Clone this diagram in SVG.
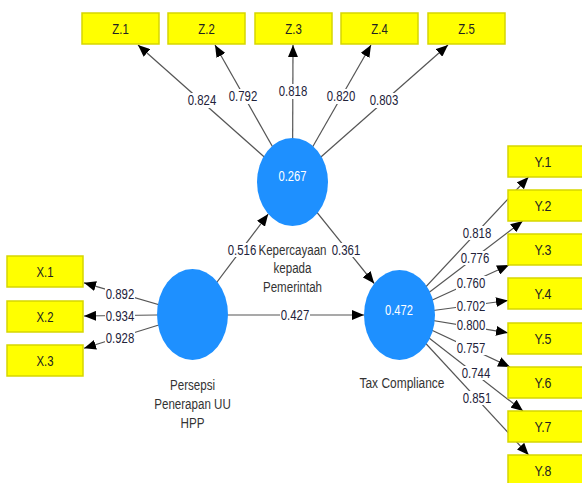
<svg xmlns="http://www.w3.org/2000/svg" width="582" height="483" viewBox="0 0 582 483">
<style>
text{font-family:"Liberation Sans",Arial,sans-serif;font-size:14px;text-anchor:middle}
.ln{stroke:#555;stroke-width:1.2;fill:none;marker-end:url(#ah)}
.lb{fill:#fff}
.lt{fill:#22223a}
.box{fill:#ffff00;stroke:#d6d600;stroke-width:1.5}
.bt{fill:#222}
.lv{fill:#1e90ff}
.ct{fill:#fff}
.nt{fill:#333}
</style>
<defs>
<marker id="ah" markerUnits="userSpaceOnUse" markerWidth="12" markerHeight="10" viewBox="0 0 12 10" refX="12" refY="5" orient="auto">
<path d="M0,0 L12,5 L0,10 z" fill="#000"/>
</marker>
</defs>
<rect width="582" height="483" fill="#fff"/>
<g id="connectors">
<line class="ln" x1="292.5" y1="182" x2="138" y2="45"/>
<line class="ln" x1="292.5" y1="182" x2="215" y2="45"/>
<line class="ln" x1="292.5" y1="182" x2="293" y2="45"/>
<line class="ln" x1="292.5" y1="182" x2="371" y2="45"/>
<line class="ln" x1="292.5" y1="182" x2="448" y2="45"/>
<rect class="lb" x="187" y="93" width="30" height="15"/><text class="lt" x="202" y="105" textLength="28.5" lengthAdjust="spacingAndGlyphs">0.824</text>
<rect class="lb" x="228" y="89" width="30" height="15"/><text class="lt" x="243" y="101" textLength="28.5" lengthAdjust="spacingAndGlyphs">0.792</text>
<rect class="lb" x="278" y="84" width="30" height="15"/><text class="lt" x="293" y="96" textLength="28.5" lengthAdjust="spacingAndGlyphs">0.818</text>
<rect class="lb" x="326" y="89" width="30" height="15"/><text class="lt" x="341" y="101" textLength="28.5" lengthAdjust="spacingAndGlyphs">0.820</text>
<rect class="lb" x="369" y="93" width="30" height="15"/><text class="lt" x="384" y="105" textLength="28.5" lengthAdjust="spacingAndGlyphs">0.803</text>
<line class="ln" x1="192.5" y1="314.5" x2="84" y2="282.8"/>
<line class="ln" x1="192.5" y1="314.5" x2="84" y2="316"/>
<line class="ln" x1="192.5" y1="314.5" x2="84" y2="348.3"/>
<rect class="lb" x="105" y="287" width="30" height="14"/><text class="lt" x="120" y="299" textLength="28.5" lengthAdjust="spacingAndGlyphs">0.892</text>
<rect class="lb" x="105" y="309" width="30" height="14"/><text class="lt" x="120" y="321" textLength="28.5" lengthAdjust="spacingAndGlyphs">0.934</text>
<rect class="lb" x="105" y="331" width="30" height="14"/><text class="lt" x="120" y="343" textLength="28.5" lengthAdjust="spacingAndGlyphs">0.928</text>
<line class="ln" x1="399.5" y1="315" x2="528.5" y2="177"/>
<line class="ln" x1="399.5" y1="315" x2="522.7" y2="221"/>
<line class="ln" x1="399.5" y1="315" x2="509" y2="265"/>
<line class="ln" x1="399.5" y1="315" x2="508" y2="300.5"/>
<line class="ln" x1="399.5" y1="315" x2="508" y2="332.8"/>
<line class="ln" x1="399.5" y1="315" x2="510" y2="367"/>
<line class="ln" x1="399.5" y1="315" x2="523" y2="411"/>
<line class="ln" x1="399.5" y1="315" x2="528.7" y2="455"/>
<rect class="lb" x="462" y="226" width="30" height="14"/><text class="lt" x="477" y="238" textLength="28.5" lengthAdjust="spacingAndGlyphs">0.818</text>
<rect class="lb" x="460" y="251" width="30" height="14"/><text class="lt" x="475" y="263" textLength="28.5" lengthAdjust="spacingAndGlyphs">0.776</text>
<rect class="lb" x="456" y="276" width="30" height="14"/><text class="lt" x="471" y="288" textLength="28.5" lengthAdjust="spacingAndGlyphs">0.760</text>
<rect class="lb" x="456" y="299" width="30" height="14"/><text class="lt" x="471" y="311" textLength="28.5" lengthAdjust="spacingAndGlyphs">0.702</text>
<rect class="lb" x="456" y="318" width="30" height="14"/><text class="lt" x="471" y="330" textLength="28.5" lengthAdjust="spacingAndGlyphs">0.800</text>
<rect class="lb" x="456" y="341" width="30" height="14"/><text class="lt" x="471" y="353" textLength="28.5" lengthAdjust="spacingAndGlyphs">0.757</text>
<rect class="lb" x="461" y="366" width="30" height="14"/><text class="lt" x="476" y="378" textLength="28.5" lengthAdjust="spacingAndGlyphs">0.744</text>
<rect class="lb" x="462" y="391" width="30" height="14"/><text class="lt" x="477" y="403" textLength="28.5" lengthAdjust="spacingAndGlyphs">0.851</text>
<line class="ln" x1="192.5" y1="314.5" x2="268.2" y2="214.1"/>
<line class="ln" x1="292.5" y1="182" x2="374.2" y2="283.5"/>
<line class="ln" x1="192.5" y1="315" x2="364" y2="315"/>
<rect class="lb" x="227" y="243" width="30" height="14"/><text class="lt" x="242" y="255" textLength="28.5" lengthAdjust="spacingAndGlyphs">0.516</text>
<rect class="lb" x="331" y="243" width="30" height="14"/><text class="lt" x="346" y="255" textLength="28.5" lengthAdjust="spacingAndGlyphs">0.361</text>
<rect class="lb" x="280" y="308" width="30" height="14"/><text class="lt" x="295" y="320" textLength="28.5" lengthAdjust="spacingAndGlyphs">0.427</text>
</g>
<g id="node-Z">
<ellipse class="lv" cx="292.5" cy="182" rx="35.5" ry="44"/>
<text class="ct" x="292.5" y="181" textLength="28" lengthAdjust="spacingAndGlyphs">0.267</text>
<text class="nt" x="292.5" y="255" textLength="68" lengthAdjust="spacingAndGlyphs">Kepercayaan</text>
<text class="nt" x="292.5" y="273" textLength="38" lengthAdjust="spacingAndGlyphs">kepada</text>
<text class="nt" x="292.5" y="292" textLength="59" lengthAdjust="spacingAndGlyphs">Pemerintah</text>
</g>
<g id="node-X">
<ellipse class="lv" cx="192.5" cy="314.5" rx="35.5" ry="45.5"/>
<text class="nt" x="192.5" y="390" textLength="45" lengthAdjust="spacingAndGlyphs">Persepsi</text>
<text class="nt" x="192.5" y="409" textLength="76.5" lengthAdjust="spacingAndGlyphs">Penerapan UU</text>
<text class="nt" x="192.5" y="428" textLength="24" lengthAdjust="spacingAndGlyphs">HPP</text>
</g>
<g id="node-Y">
<ellipse class="lv" cx="399.5" cy="315" rx="35.5" ry="45"/>
<text class="ct" x="399" y="315" textLength="28" lengthAdjust="spacingAndGlyphs">0.472</text>
<text class="nt" x="402" y="388" textLength="85" lengthAdjust="spacingAndGlyphs">Tax Compliance</text>
</g>
<g id="ind-Z1"><rect class="box" x="82" y="13" width="77" height="31"/><text class="bt" x="120.5" y="34" textLength="16.5" lengthAdjust="spacingAndGlyphs">Z.1</text></g>
<g id="ind-Z2"><rect class="box" x="168" y="13" width="77" height="31"/><text class="bt" x="206.5" y="34" textLength="16.5" lengthAdjust="spacingAndGlyphs">Z.2</text></g>
<g id="ind-Z3"><rect class="box" x="255" y="13" width="77" height="31"/><text class="bt" x="293.5" y="34" textLength="16.5" lengthAdjust="spacingAndGlyphs">Z.3</text></g>
<g id="ind-Z4"><rect class="box" x="341" y="13" width="77" height="31"/><text class="bt" x="379.5" y="34" textLength="16.5" lengthAdjust="spacingAndGlyphs">Z.4</text></g>
<g id="ind-Z5"><rect class="box" x="428" y="13" width="77" height="31"/><text class="bt" x="466.5" y="34" textLength="16.5" lengthAdjust="spacingAndGlyphs">Z.5</text></g>
<g id="ind-X1"><rect class="box" x="7" y="256" width="76" height="31"/><text class="bt" x="45" y="277" textLength="17" lengthAdjust="spacingAndGlyphs">X.1</text></g>
<g id="ind-X2"><rect class="box" x="7" y="301" width="76" height="31"/><text class="bt" x="45" y="322" textLength="17" lengthAdjust="spacingAndGlyphs">X.2</text></g>
<g id="ind-X3"><rect class="box" x="7" y="345" width="76" height="31"/><text class="bt" x="45" y="366" textLength="17" lengthAdjust="spacingAndGlyphs">X.3</text></g>
<g id="ind-Y1"><rect class="box" x="508" y="146" width="80" height="31"/><text class="bt" x="543" y="167" textLength="17" lengthAdjust="spacingAndGlyphs">Y.1</text></g>
<g id="ind-Y2"><rect class="box" x="508" y="190" width="80" height="31"/><text class="bt" x="543" y="211" textLength="17" lengthAdjust="spacingAndGlyphs">Y.2</text></g>
<g id="ind-Y3"><rect class="box" x="508" y="234" width="80" height="31"/><text class="bt" x="543" y="255" textLength="17" lengthAdjust="spacingAndGlyphs">Y.3</text></g>
<g id="ind-Y4"><rect class="box" x="508" y="278" width="80" height="31"/><text class="bt" x="543" y="299" textLength="17" lengthAdjust="spacingAndGlyphs">Y.4</text></g>
<g id="ind-Y5"><rect class="box" x="508" y="323" width="80" height="31"/><text class="bt" x="543" y="344" textLength="17" lengthAdjust="spacingAndGlyphs">Y.5</text></g>
<g id="ind-Y6"><rect class="box" x="508" y="367" width="80" height="31"/><text class="bt" x="543" y="388" textLength="17" lengthAdjust="spacingAndGlyphs">Y.6</text></g>
<g id="ind-Y7"><rect class="box" x="508" y="411" width="80" height="31"/><text class="bt" x="543" y="432" textLength="17" lengthAdjust="spacingAndGlyphs">Y.7</text></g>
<g id="ind-Y8"><rect class="box" x="508" y="455" width="80" height="31"/><text class="bt" x="543" y="476" textLength="17" lengthAdjust="spacingAndGlyphs">Y.8</text></g>
</svg>
